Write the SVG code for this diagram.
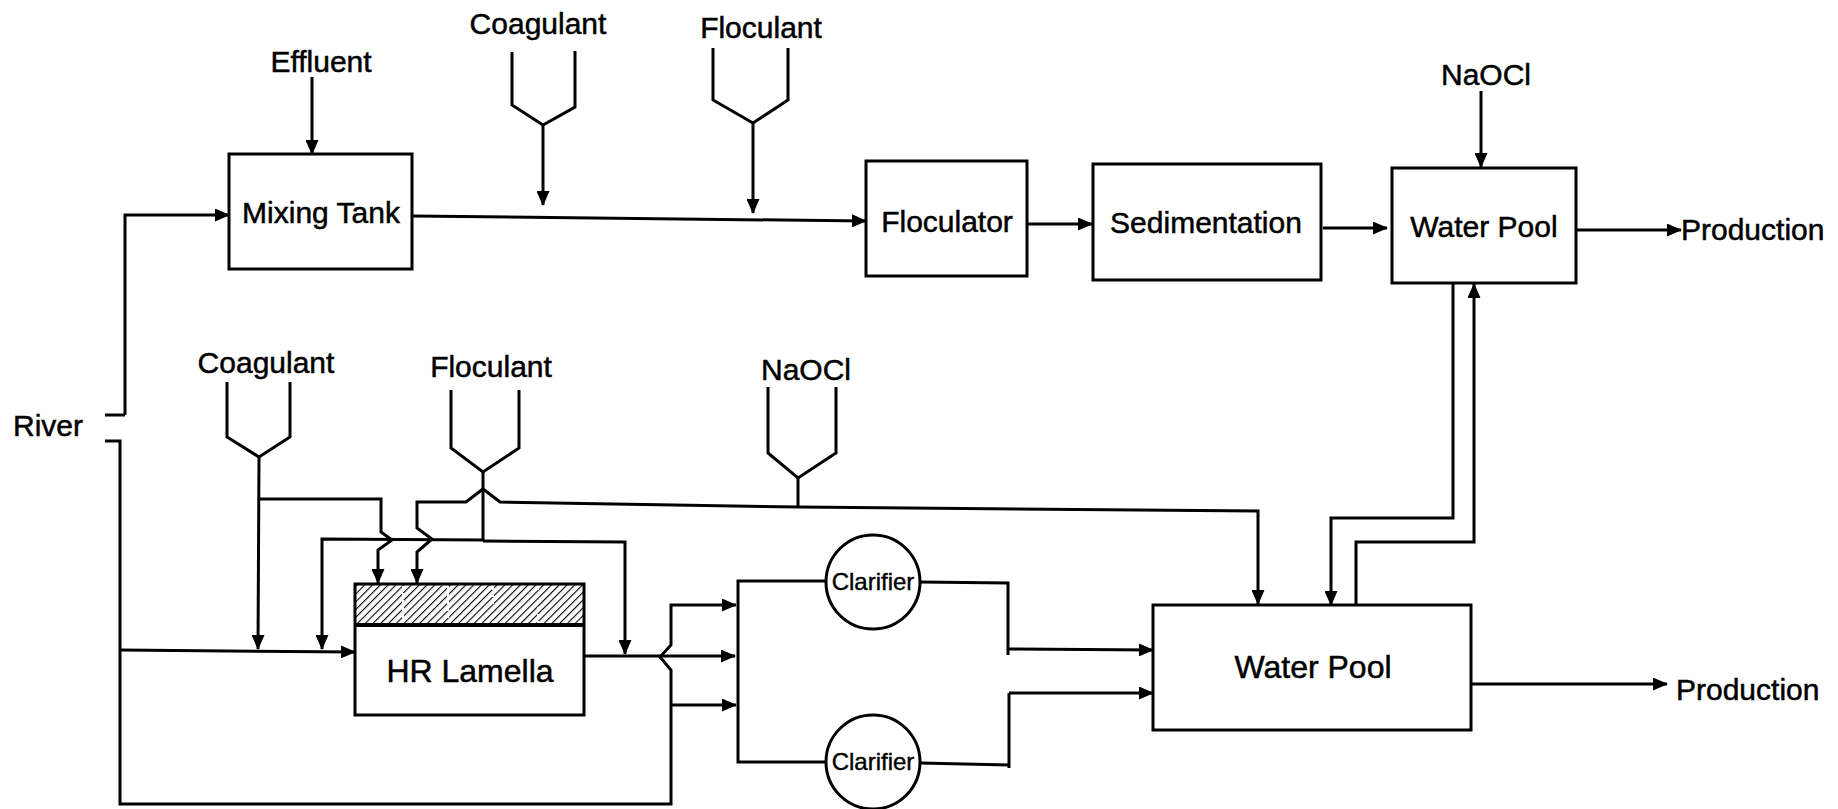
<svg xmlns="http://www.w3.org/2000/svg" width="1838" height="809" viewBox="0 0 1838 809">
<style>
.t{font-family:"Liberation Sans",Arial,sans-serif;font-size:30px;fill:#000;stroke:#000;stroke-width:0.5}
.c{text-anchor:middle}
.box{fill:none;stroke:#000;stroke-width:3}
.ln{fill:none;stroke:#000;stroke-width:3;stroke-linejoin:miter}
.ar{marker-end:url(#ah)}
</style>
<defs>
<marker id="ah" markerUnits="userSpaceOnUse" markerWidth="15" markerHeight="13" refX="14" refY="6.5" orient="auto">
<path d="M0,0 L15,6.5 L0,13 z" fill="#000"/>
</marker>
<pattern id="hatch" patternUnits="userSpaceOnUse" width="5.5" height="5.5" patternTransform="rotate(45)">
<line x1="0" y1="0" x2="0" y2="5.5" stroke="#000" stroke-width="2.2"/>
</pattern>
</defs>
<rect width="1838" height="809" fill="#fff"/>

<g id="effluent">
<text class="t c" x="321" y="72">Effluent</text>
</g>
<g id="coagulant-top">
<text class="t c" x="538" y="34">Coagulant</text>
<path class="ln" d="M512,52 L512,105 L543,125 L575,107 L575,51"/>
</g>
<g id="floculant-top">
<text class="t c" x="761" y="38">Floculant</text>
<path class="ln" d="M713,48 L713,100 L753,123 L788,100 L788,48"/>
</g>
<g id="naocl-top">
<text class="t c" x="1486" y="85">NaOCl</text>
</g>
<g id="mixing-tank">
<rect class="box" x="229" y="154" width="183" height="115"/>
<text class="t c" x="321" y="223">Mixing Tank</text>
</g>
<g id="floculator">
<rect class="box" x="866" y="161" width="161" height="115"/>
<text class="t c" x="947" y="232">Floculator</text>
</g>
<g id="sedimentation">
<rect class="box" x="1093" y="164" width="228" height="116"/>
<text class="t c" x="1206" y="233">Sedimentation</text>
</g>
<g id="water-pool-top">
<rect class="box" x="1392" y="168" width="184" height="115"/>
<text class="t c" x="1484" y="237">Water Pool</text>
</g>
<g id="production-top">
<text class="t" x="1681" y="240">Production</text>
</g>
<g id="river">
<text class="t" x="13" y="436">River</text>
</g>
<g id="coagulant-bottom">
<text class="t c" x="266" y="373">Coagulant</text>
<path class="ln" d="M227,382 L227,437 L259,457 L290,437 L290,382"/>
</g>
<g id="floculant-bottom">
<text class="t c" x="491" y="377">Floculant</text>
<path class="ln" d="M451,390 L451,448 L483,472 L519,448 L519,390"/>
</g>
<g id="naocl-bottom">
<text class="t c" x="806" y="380">NaOCl</text>
<path class="ln" d="M768,387 L768,453 L798,478 L836,453 L836,387"/>
</g>
<g id="hr-lamella">
<rect x="356" y="584" width="228" height="41" fill="url(#hatch)"/>
<path d="M403,586 V624 M448,586 V624 M493,586 V624 M538,586 V624" stroke="#fff" stroke-width="2" stroke-dasharray="4 3"/>
<rect class="box" x="355" y="584" width="229" height="131"/>
<line x1="355" y1="625" x2="584" y2="625" stroke="#000" stroke-width="4"/>
<text class="t c" x="470" y="682" style="font-size:32px">HR Lamella</text>
</g>
<g id="clarifier-1">
<circle class="box" cx="873" cy="582" r="47"/>
<text class="t c" x="873" y="590" style="font-size:24px;stroke-width:0.4">Clarifier</text>
</g>
<g id="clarifier-2">
<circle class="box" cx="873" cy="762" r="47"/>
<text class="t c" x="873" y="770" style="font-size:24px;stroke-width:0.4">Clarifier</text>
</g>
<g id="water-pool-bottom">
<rect class="box" x="1153" y="605" width="318" height="125"/>
<text class="t c" x="1313" y="678" style="font-size:32px">Water Pool</text>
</g>
<g id="production-bottom">
<text class="t" x="1676" y="700">Production</text>
</g>

<g id="connectors">
<path class="ln ar" d="M125,415 L125,215 L229,215"/>
<path class="ln" d="M105,415 L125,415"/>
<path class="ln" d="M105,441 L120,441 L120,804 L671,804 L671,670 L660,657 L671,645 L671,605 L736,605" marker-end="url(#ah)"/>
<path class="ln ar" d="M671,705 L736,705"/>
<path class="ln ar" d="M120,650 L355,652"/>
<path class="ln ar" d="M412,216 L866,221"/>
<path class="ln ar" d="M312,77 L312,154"/>
<path class="ln ar" d="M543,125 L543,205"/>
<path class="ln ar" d="M753,123 L753,213"/>
<path class="ln ar" d="M1027,224 L1092,224"/>
<path class="ln ar" d="M1323,228 L1387,228"/>
<path class="ln ar" d="M1481,91 L1481,167"/>
<path class="ln ar" d="M1576,230 L1681,230"/>
<path class="ln ar" d="M259,457 L258,649"/>
<path class="ln ar" d="M258,499 L381,499 L381,532 L392,540 L378,550 L378,583"/>
<path class="ln" d="M483,472 L483,541"/>
<path class="ln ar" d="M483,540 L322,539 L322,649"/>
<path class="ln ar" d="M483,541 L625,542 L625,654"/>
<path class="ln" d="M798,478 L798,507"/>
<path class="ln ar" d="M798,507 L1258,511 L1258,604"/>
<path class="ln ar" d="M798,507 L500,502 L483,489 L466,502 L417,502 L417,528 L432,539 L417,552 L417,583"/>
<path class="ln ar" d="M584,656 L735,656"/>
<path class="ln" d="M826,581 L738,581 L738,762 L826,762"/>
<path class="ln" d="M920,582 L1008,583 L1008,655"/>
<path class="ln ar" d="M1008,649 L1153,650"/>
<path class="ln" d="M920,763 L1009,765 M1009,768 L1009,693"/>
<path class="ln ar" d="M1009,693 L1153,693"/>
<path class="ln ar" d="M1453,283 L1453,518 L1331,518 L1331,605"/>
<path class="ln ar" d="M1356,605 L1356,542 L1474,542 L1474,284"/>
<path class="ln ar" d="M1471,684 L1667,684"/>
</g>
</svg>
